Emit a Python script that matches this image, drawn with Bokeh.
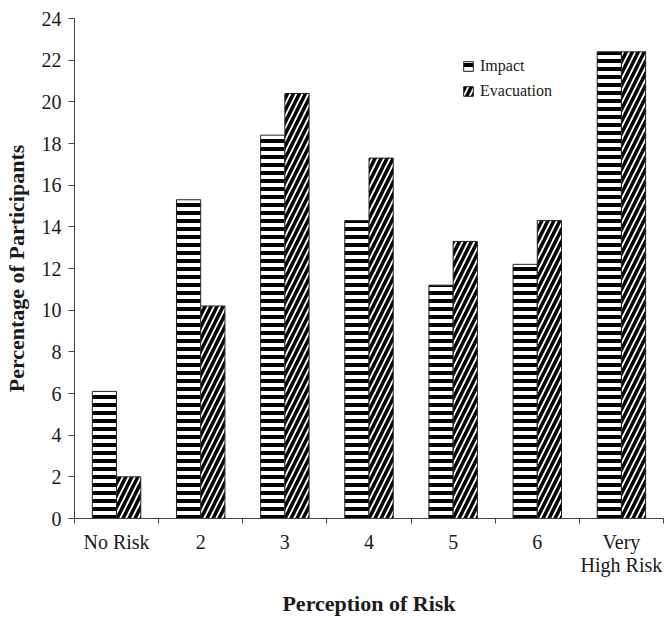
import numpy as np
from bokeh.plotting import figure
from bokeh.models import ColumnDataSource, FixedTicker, Range1d, Legend, LegendItem
from bokeh.embed import file_html
from bokeh.resources import INLINE

categories = ["No Risk", "2", "3", "4", "5", "6", "Very\nHigh Risk"]
impact = [6.1, 15.3, 18.4, 14.3, 11.2, 12.2, 22.4]
evacuation = [2.0, 10.2, 20.4, 17.3, 13.3, 14.3, 22.4]
y_ticks = list(range(0, 25, 2))

n = len(categories)
centers = np.arange(n) + 0.5
bw = 0.288

src_i = ColumnDataSource(dict(x=centers - bw / 2, top=impact))
src_e = ColumnDataSource(dict(x=centers + bw / 2, top=evacuation))

FONT = "Liberation Serif"
TXT = "#1a1a1a"
AX = "#444444"

p = figure(width=665, height=618, output_backend="svg", toolbar_location=None,
           x_range=Range1d(0, n), y_range=Range1d(0, 24),
           min_border_left=74, min_border_right=2, min_border_top=18, min_border_bottom=99)
p.outline_line_color = None
p.xgrid.visible = False
p.ygrid.visible = False
p.background_fill_color = "white"
p.border_fill_color = "white"

ri = p.vbar(x="x", top="top", width=bw, source=src_i, fill_color="white",
            line_color="#222222", line_width=1, hatch_pattern="horizontal_line",
            hatch_color="black", hatch_scale=8, hatch_weight=4)
re_ = p.vbar(x="x", top="top", width=bw, source=src_e, fill_color="white",
             line_color="#222222", line_width=1, hatch_pattern="right_diagonal_line",
             hatch_color="black", hatch_scale=12, hatch_weight=3.5)

# x axis: labels at centers, tick marks at category boundaries (minor ticks)
xa = p.xaxis[0]
xa.ticker = FixedTicker(ticks=list(centers), minor_ticks=list(range(n + 1)))
xa.major_label_overrides = {float(c): lab for c, lab in zip(centers, categories)}
xa.major_tick_out = 0
xa.major_tick_in = 0
xa.minor_tick_out = 5
xa.minor_tick_in = 0
xa.minor_tick_line_color = AX
xa.axis_line_color = AX
xa.major_label_text_font = FONT
xa.major_label_text_font_size = "20px"
xa.major_label_text_color = TXT
xa.major_label_text_line_height = 1.05
xa.major_label_standoff = 7
xa.axis_label = "Perception of Risk"
xa.axis_label_text_font = FONT
xa.axis_label_text_font_style = "bold"
xa.axis_label_text_font_size = "22px"
xa.axis_label_text_color = TXT
xa.axis_label_text_line_height = 1.0
xa.axis_label_standoff = 12

ya = p.yaxis[0]
ya.ticker = FixedTicker(ticks=y_ticks, minor_ticks=[])
ya.major_tick_out = 6
ya.major_tick_in = 0
ya.major_tick_line_color = AX
ya.axis_line_color = AX
ya.major_label_text_font = FONT
ya.major_label_text_font_size = "20px"
ya.major_label_text_color = TXT
ya.major_label_standoff = 7
ya.axis_label = "Percentage of Participants"
ya.axis_label_text_font = FONT
ya.axis_label_text_font_style = "bold"
ya.axis_label_text_font_size = "22px"
ya.axis_label_text_color = TXT
ya.axis_label_standoff = 10

legend = Legend(items=[LegendItem(label="Impact", renderers=[ri]),
                       LegendItem(label="Evacuation", renderers=[re_])],
                location=(388, 418))
legend.label_text_font = FONT
legend.label_text_font_size = "16px"
legend.label_text_color = TXT
legend.glyph_width = 12
legend.glyph_height = 12
legend.spacing = 6
legend.label_standoff = 6
legend.label_height = 19
legend.border_line_color = None
legend.background_fill_alpha = 0
p.add_layout(legend, "center")

open("out.html", "w").write(file_html(p, INLINE))
